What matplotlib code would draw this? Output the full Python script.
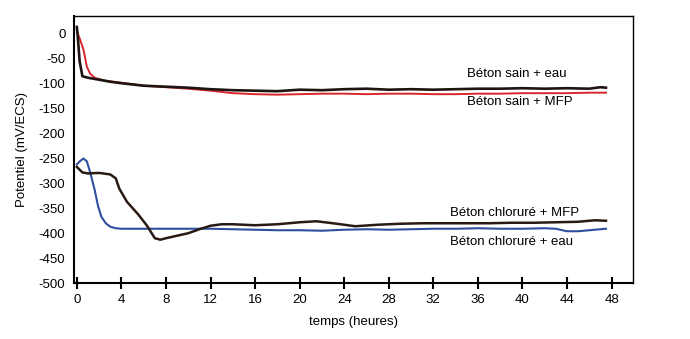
import numpy as np
import matplotlib
matplotlib.use("Agg")
import matplotlib.pyplot as plt

plt.rcParams['font.family'] = ['Liberation Sans', 'DejaVu Sans']
plt.rcParams['axes.unicode_minus'] = False

# Béton sain + eau (noir)
t_sain_eau = [0, 0.1, 0.25, 0.5, 1, 2, 3, 4, 6, 8, 10, 12, 14, 16, 18, 20, 22, 24, 26,
              28, 30, 32, 34, 36, 38, 40, 42, 44, 46, 47, 47.5]
e_sain_eau = [14, -10, -55, -85, -88, -92, -96, -99, -104, -106, -108, -111, -113, -114,
              -115, -112, -113, -111, -110, -112, -111, -112, -111, -110, -110, -109,
              -110, -109, -110, -107, -108]

# Béton sain + MFP (rouge)
t_sain_mfp = [0, 0.1, 0.3, 0.6, 0.9, 1.2, 1.6, 2.5, 4, 6, 8, 10, 12, 14, 16, 18, 20, 22,
              24, 26, 28, 30, 32, 34, 36, 38, 40, 42, 44, 46, 47.5]
e_sain_mfp = [8, 0, -12, -32, -66, -80, -88, -94, -98, -104, -107, -110, -114, -119, -121,
              -122, -121, -120, -120, -121, -120, -120, -121, -121, -120, -120, -119,
              -119, -119, -118, -118]

# Béton chloruré + eau (bleu)
t_chl_eau = [0, 0.3, 0.6, 0.9, 1.2, 1.6, 1.9, 2.2, 2.6, 3, 3.5, 4, 6, 8, 10, 12, 14, 16,
             18, 20, 22, 24, 26, 28, 30, 32, 34, 36, 38, 40, 42, 43, 44, 45, 46, 47.5]
e_chl_eau = [-262, -255, -250, -256, -278, -313, -345, -367, -380, -387, -390, -391, -391,
             -391, -391, -391, -392, -393, -394, -394, -395, -393, -392, -393, -392, -391,
             -391, -390, -391, -391, -390, -391, -396, -396, -394, -391]

# Béton chloruré + MFP (noir)
t_chl_mfp = [0, 0.5, 1, 2, 3, 3.5, 3.8, 4.5, 5.5, 6.3, 7, 7.5, 8, 9, 10, 11, 12, 13, 14,
             16, 18, 20, 21.5, 23, 25, 27, 29, 31, 33, 35, 37, 39, 41, 43, 45, 46.5, 47.5]
e_chl_mfp = [-267, -278, -280, -279, -282, -290, -310, -337, -362, -385, -410, -413, -410,
             -405, -400, -392, -385, -382, -382, -384, -382, -378, -376, -380, -386, -383,
             -381, -380, -380, -380, -380, -379, -379, -378, -377, -374, -375]

x_ticks = list(range(0, 49, 4))
y_ticks = list(range(-500, 1, 50))

fig = plt.figure(figsize=(6.9, 3.39), dpi=100)
ax = fig.add_axes([0.107, 0.165, 0.81, 0.788])

ax.plot(t_sain_mfp, e_sain_mfp, color='#d8262c', lw=1.4)
ax.plot(t_sain_eau, e_sain_eau, color='#1e1512', lw=1.9)
ax.plot(t_chl_eau, e_chl_eau, color='#2f4f9e', lw=1.5)
ax.plot(t_chl_mfp, e_chl_mfp, color='#2a1a14', lw=1.8)

ax.text(35.0, -80, 'Béton sain + eau', fontsize=9.5, va='center')
ax.text(35.0, -136, 'Béton sain + MFP', fontsize=9.5, va='center')
ax.text(33.5, -359, 'Béton chloruré + MFP', fontsize=9.5, va='center')
ax.text(33.5, -417, 'Béton chloruré + eau', fontsize=9.5, va='center')

ax.set_xlim(-0.27, 49.9)
ax.set_ylim(-500, 36)
ax.set_xticks(x_ticks)
ax.set_yticks(y_ticks)
ax.tick_params(axis='x', direction='inout', length=8, width=1.5, labelsize=9.5, pad=4)
ax.tick_params(axis='y', length=0, labelsize=9.5, pad=6)

for side in ['left', 'bottom']:
    ax.spines[side].set_linewidth(1.5)
for side in ['top', 'right']:
    ax.spines[side].set_linewidth(1.0)

ax.set_xlabel('temps (heures)', fontsize=9.5, labelpad=7)
ax.set_ylabel('Potentiel (mV/ECS)', fontsize=9.5, labelpad=8)

fig.savefig('out.png', dpi=100, facecolor='white')
